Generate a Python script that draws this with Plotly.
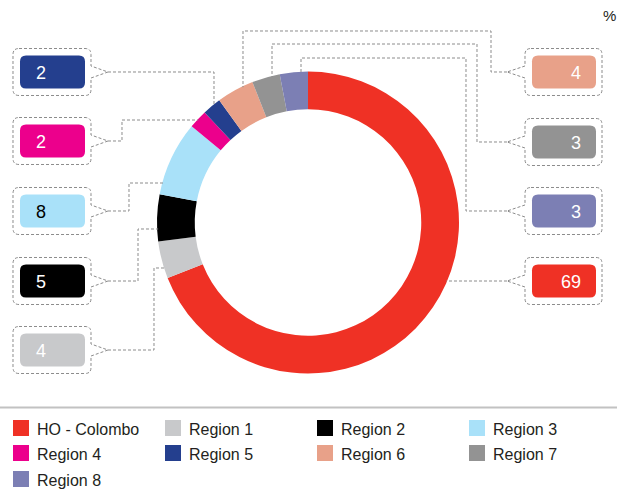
import math
import plotly.graph_objects as go

# ---- data ----
categories = ["HO - Colombo", "Region 1", "Region 2", "Region 3", "Region 4",
              "Region 5", "Region 6", "Region 7", "Region 8"]
values = [69, 4, 5, 8, 2, 2, 4, 3, 3]
colors = ["#EF3125", "#C8C9CB", "#000000", "#A9E1F9", "#EC008C",
          "#243F8E", "#E8A189", "#939393", "#7C7FB4"]
label_text_colors = ["white", "white", "white", "#000000", "white",
                     "white", "white", "white", "white"]

W, H = 630, 493
CX, CY, R = 308, 222.5, 151


def px(x):
    return x / W


def py(y):
    return 1 - y / H


def ring_x(y, side):
    dx = math.sqrt(max(R * R - (y - CY) ** 2, 0))
    return CX - dx if side == "L" else CX + dx


def ring_y(x):
    dy = math.sqrt(max(R * R - (x - CX) ** 2, 0))
    return CY - dy


fig = go.Figure()
fig.add_trace(go.Pie(
    labels=categories, values=values, sort=False, direction="clockwise",
    rotation=0, hole=0.75, textinfo="none", hoverinfo="label+value",
    marker=dict(colors=colors, line=dict(width=0)),
    domain=dict(x=[px(157), px(459)], y=[py(373.5), py(71.5)]),
    showlegend=False,
))

shapes = []
annotations = []
DASH = "3px,2px"
LC = "#8C8C8C"


def path_from(points, close=False):
    s = "M " + " L ".join(f"{px(x):.5f},{py(y):.5f}" for x, y in points)
    if close:
        s += " Z"
    return s


def rounded_rect(x0, y0, x1, y1, r):
    pts = [
        ("M", [(x0 + r, y0)]), ("L", [(x1 - r, y0)]), ("Q", [(x1, y0), (x1, y0 + r)]),
        ("L", [(x1, y1 - r)]), ("Q", [(x1, y1), (x1 - r, y1)]),
        ("L", [(x0 + r, y1)]), ("Q", [(x0, y1), (x0, y1 - r)]),
        ("L", [(x0, y0 + r)]), ("Q", [(x0, y0), (x0 + r, y0)]),
    ]
    return " ".join(c + " " + " ".join(f"{px(a):.5f},{py(b):.5f}" for a, b in p) for c, p in pts) + " Z"


def callout(x0, y0, x1, y1, r, side, tipx, yc, n=6):
    # outer dashed box with pointer notch
    if side == "L":  # pointer on right edge
        seq = [("M", [(x0 + r, y0)]), ("L", [(x1 - r, y0)]), ("Q", [(x1, y0), (x1, y0 + r)]),
               ("L", [(x1, yc - n)]), ("L", [(tipx, yc)]), ("L", [(x1, yc + n)]),
               ("L", [(x1, y1 - r)]), ("Q", [(x1, y1), (x1 - r, y1)]),
               ("L", [(x0 + r, y1)]), ("Q", [(x0, y1), (x0, y1 - r)]),
               ("L", [(x0, y0 + r)]), ("Q", [(x0, y0), (x0 + r, y0)])]
    else:  # pointer on left edge
        seq = [("M", [(x0 + r, y0)]), ("L", [(x1 - r, y0)]), ("Q", [(x1, y0), (x1, y0 + r)]),
               ("L", [(x1, y1 - r)]), ("Q", [(x1, y1), (x1 - r, y1)]),
               ("L", [(x0 + r, y1)]), ("Q", [(x0, y1), (x0, y1 - r)]),
               ("L", [(x0, yc + n)]), ("L", [(tipx, yc)]), ("L", [(x0, yc - n)]),
               ("L", [(x0, y0 + r)]), ("Q", [(x0, y0), (x0 + r, y0)])]
    return " ".join(c + " " + " ".join(f"{px(a):.5f},{py(b):.5f}" for a, b in p) for c, p in seq) + " Z"


# label layout: category -> (side, centre y, route elbows, final direction)
label_layout = {
    "Region 5": ("L", 72, [(108, 72), (214, 72)], "v"),
    "Region 4": ("L", 141, [(108, 141), (122, 141), (122, 120)], "h"),
    "Region 3": ("L", 211, [(108, 211), (129, 211), (129, 183)], "h"),
    "Region 2": ("L", 281, [(108, 281), (138, 281), (138, 229)], "h"),
    "Region 1": ("L", 350, [(108, 350), (154, 350), (154, 268)], "h"),
    "Region 6": ("R", 72, [(507, 72), (491, 72), (491, 31), (243, 31)], "v"),
    "Region 7": ("R", 142, [(507, 142), (477, 142), (477, 44), (272, 44)], "v"),
    "Region 8": ("R", 211, [(507, 211), (466, 211), (466, 58), (301, 58)], "v"),
    "HO - Colombo": ("R", 281, [(507, 281)], "h"),
}

for i, cat in enumerate(categories):
    side, yc, route, final = label_layout[cat]
    lx, ly = route[-1]
    if final == "v":
        end = (lx, ring_y(lx) + 1)
    else:
        end = (ring_x(ly, side) + (1 if side == "L" else -1), ly)
    pts = route + [end]
    shapes.append(dict(type="path", path=path_from(pts), xref="paper", yref="paper",
                       line=dict(color=LC, width=1, dash=DASH)))
    if side == "L":
        ox0, ox1, tip = 13, 91, 108
        ix0, ix1 = 20, 85
    else:
        ox0, ox1, tip = 525, 602, 507
        ix0, ix1 = 532, 596
    shapes.append(dict(type="path", path=callout(ox0, yc - 23.5, ox1, yc + 23.5, 6, side, tip, yc),
                       xref="paper", yref="paper", line=dict(color=LC, width=1, dash=DASH)))
    shapes.append(dict(type="path", path=rounded_rect(ix0, yc - 16.5, ix1, yc + 16.5, 6),
                       xref="paper", yref="paper", fillcolor=colors[i], line=dict(width=0)))
    if side == "L":
        annotations.append(dict(x=px(34), y=py(yc + 1), xref="paper", yref="paper",
                                text=str(values[i]), showarrow=False, xanchor="left", yanchor="middle",
                                font=dict(family="Liberation Sans, Arial", size=18, color=label_text_colors[i])))
    else:
        annotations.append(dict(x=px(583), y=py(yc + 1), xref="paper", yref="paper",
                                text=str(values[i]), showarrow=False, xanchor="right", yanchor="middle",
                                font=dict(family="Liberation Sans, Arial", size=18, color=label_text_colors[i])))

# percent sign
annotations.append(dict(x=px(609), y=py(15), xref="paper", yref="paper", text="%",
                        showarrow=False, xanchor="center", yanchor="middle",
                        font=dict(family="Liberation Sans, Arial", size=15, color="#231F20")))

# separator line
shapes.append(dict(type="line", x0=0, x1=px(617), y0=py(407.5), y1=py(407.5),
                   xref="paper", yref="paper", line=dict(color="#C2C2C2", width=2)))

# legend
leg_cols = [13, 165, 317, 469]
leg_rows = [428, 453, 479]
for i, cat in enumerate(categories):
    cx = leg_cols[i % 4]
    ry = leg_rows[i // 4]
    shapes.append(dict(type="rect", x0=px(cx), x1=px(cx + 16), y0=py(ry - 8), y1=py(ry + 8),
                       xref="paper", yref="paper", fillcolor=colors[i], line=dict(width=0)))
    annotations.append(dict(x=px(cx + 22), y=py(ry + 1), xref="paper", yref="paper", text=cat,
                            showarrow=False, xanchor="left", yanchor="middle",
                            font=dict(family="Liberation Sans, Arial", size=16, color="#231F20")))

fig.update_layout(
    width=W, height=H, margin=dict(l=0, r=0, t=0, b=0),
    paper_bgcolor="white", plot_bgcolor="white",
    shapes=shapes, annotations=annotations, showlegend=False,
)

fig.write_html("out.html", config={"displayModeBar": False})
